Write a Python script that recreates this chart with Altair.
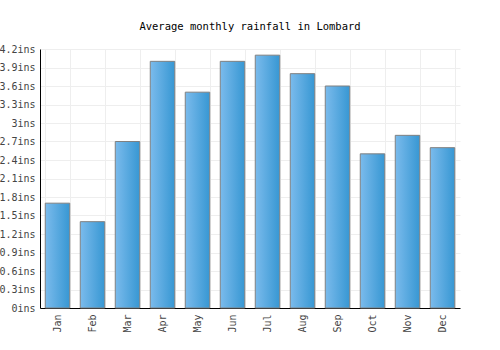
import altair as alt
import pandas as pd

months = ["Jan", "Feb", "Mar", "Apr", "May", "Jun", "Jul", "Aug", "Sep", "Oct", "Nov", "Dec"]
rainfall = [1.7, 1.4, 2.7, 4.0, 3.5, 4.0, 4.1, 3.8, 3.6, 2.5, 2.8, 2.6]
y_ticks = [0, 0.3, 0.6, 0.9, 1.2, 1.5, 1.8, 2.1, 2.4, 2.7, 3.0, 3.3, 3.6, 3.9, 4.2]

df = pd.DataFrame({"month": months, "rain": rainfall})

FONT = "DejaVu Sans Mono"

chart = alt.Chart(df).mark_bar(
    fill=alt.Gradient(
        gradient="linear", x1=0, x2=1, y1=0, y2=0,
        stops=[alt.GradientStop(color="#7bbbec", offset=0),
               alt.GradientStop(color="#3797d3", offset=1)]
    ),
    stroke="#808080",
    strokeWidth=1,
).encode(
    x=alt.X("month:N", sort=months, title=None,
            scale=alt.Scale(paddingInner=0.3, paddingOuter=0.15),
            axis=alt.Axis(labelAngle=-90, tickBand="extent", grid=True, ticks=False,
                          gridColor="#eeeeee", domainColor="#000000",
                          labelFont=FONT, labelFontSize=10, labelColor="#444444",
                          labelPadding=6, labelBaseline="middle", labelAlign="right")),
    y=alt.Y("rain:Q", title=None,
            scale=alt.Scale(domain=[0, 4.2], nice=False),
            axis=alt.Axis(values=y_ticks, labelExpr="datum.value + 'ins'",
                          grid=True, gridColor="#eeeeee", ticks=False,
                          domainColor="#000000", labelFont=FONT, labelFontSize=10,
                          labelColor="#444444", labelPadding=5)),
).properties(
    width=420, height=259,
    title=alt.TitleParams("Average monthly rainfall in Lombard", font=FONT, fontSize=10.5,
                          fontWeight="normal", color="#000000", anchor="middle", offset=12),
    autosize=alt.AutoSizeParams(type="none"),
    padding={"left": 40, "top": 49, "right": 40, "bottom": 42},
).configure_view(stroke=None)

chart.save("out.html", embed_options={"renderer": "svg", "actions": False})
